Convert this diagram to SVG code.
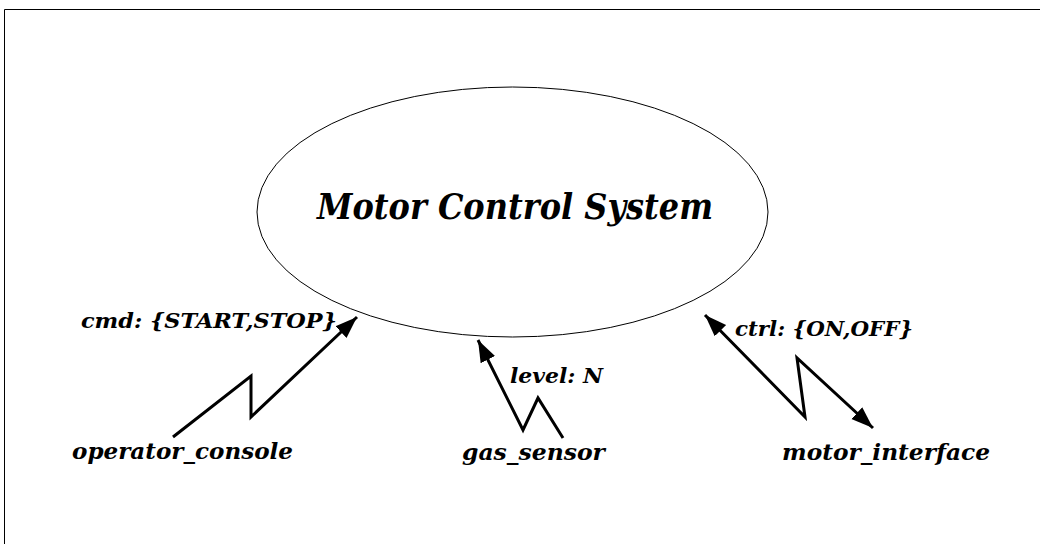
<svg xmlns="http://www.w3.org/2000/svg" width="1040" height="544" viewBox="0 0 1040 544">
<style>
.t{font-family:"DejaVu Serif",serif;font-weight:bold;font-style:italic;fill:#000}
.c{fill:none;stroke:#000;stroke-width:3;stroke-linejoin:miter}
</style>
<defs>
<marker id="ah" markerUnits="userSpaceOnUse" markerWidth="24" markerHeight="18" refX="22" refY="8" orient="auto-start-reverse" viewBox="0 0 24 16">
<path d="M0,0 L22,8 L0,16 Z" fill="#000"/>
</marker>
</defs>
<rect width="1040" height="544" fill="#fff"/>
<path d="M4.5,544 V9.5 H1040" fill="none" stroke="#000" stroke-width="1"/>
<g id="system">
<ellipse cx="512.5" cy="212" rx="255.5" ry="125" fill="none" stroke="#000" stroke-width="1"/>
<text class="t" x="317" y="219" font-size="35" textLength="396" lengthAdjust="spacingAndGlyphs">Motor Control System</text>
</g>
<g id="operator_console">
<text class="t" x="72" y="459" font-size="22" textLength="221" lengthAdjust="spacingAndGlyphs">operator_console</text>
</g>
<g id="gas_sensor">
<text class="t" x="462" y="460" font-size="22" textLength="143" lengthAdjust="spacingAndGlyphs">gas_sensor</text>
</g>
<g id="motor_interface">
<text class="t" x="782" y="460" font-size="22" textLength="208" lengthAdjust="spacingAndGlyphs">motor_interface</text>
</g>
<g id="connectors">
<path class="c" d="M173,437 L251,376 L251,417 L357,317" marker-end="url(#ah)"/>
<text class="t" x="81" y="328" font-size="20" textLength="256" lengthAdjust="spacingAndGlyphs">cmd: {START,STOP}</text>
<path class="c" d="M563,438 L538,398 L523,430 L478,340" marker-end="url(#ah)"/>
<text class="t" x="510" y="383" font-size="20" textLength="93" lengthAdjust="spacingAndGlyphs">level: N</text>
<path class="c" d="M705,315 L805,417 L797,358 L873,428" marker-start="url(#ah)" marker-end="url(#ah)"/>
<text class="t" x="735" y="336" font-size="20" textLength="178" lengthAdjust="spacingAndGlyphs">ctrl: {ON,OFF}</text>
</g>
</svg>
